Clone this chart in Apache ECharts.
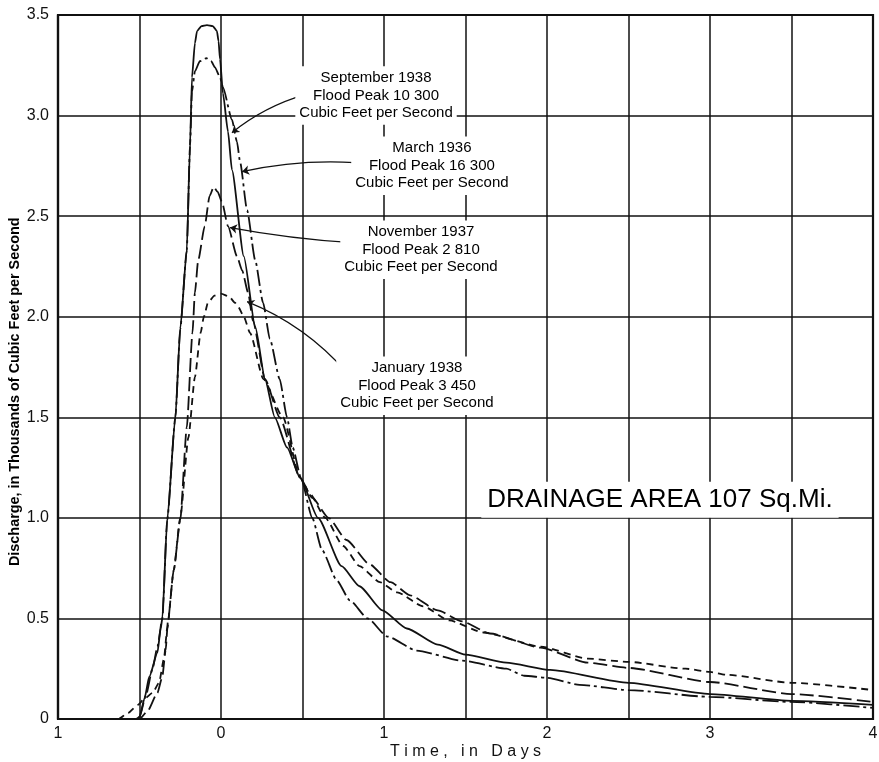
<!DOCTYPE html>
<html>
<head>
<meta charset="utf-8">
<script src="https://cdn.jsdelivr.net/npm/echarts@6/dist/echarts.min.js"></script>
<style>
html,body{margin:0;padding:0;background:#fff;}
#main{width:879px;height:762px;}
</style>
</head>
<body>
<div id="main"></div>
<script>
// ---- Data (time in days relative to peak, discharge in thousands of cfs) ----
const sept1938 = [[-1,0],[-0.52,0],[-0.5,0.01],[-0.47,0.1],[-0.44,0.21],[-0.39,0.33],[-0.37,0.45],[-0.36,0.5],[-0.33,0.99],[-0.28,1.5],[-0.25,1.94],[-0.21,2.33],[-0.19,2.85],[-0.178,3.19],[-0.16,3.36],[-0.147,3.42],[-0.12,3.445],[-0.086,3.45],[-0.05,3.445],[-0.025,3.42],[-0.015,3.37],[-0.006,3.28],[0.012,3.11],[0.043,2.92],[0.067,2.73],[0.14,2.3],[0.21,1.95],[0.27,1.69],[0.33,1.5],[0.405,1.35],[0.485,1.2],[0.595,1.0],[0.74,0.76],[0.85,0.66],[0.99,0.54],[1.14,0.45],[1.33,0.37],[1.5,0.32],[1.75,0.28],[2.02,0.244],[2.5,0.18],[3.0,0.124],[3.5,0.09],[4.0,0.07]];
const march1936 = [[-1,0],[-0.52,0],[-0.5,0.01],[-0.46,0.12],[-0.42,0.25],[-0.39,0.36],[-0.36,0.5],[-0.33,0.99],[-0.28,1.5],[-0.25,1.94],[-0.21,2.33],[-0.19,2.85],[-0.178,3.12],[-0.16,3.22],[-0.13,3.27],[-0.09,3.285],[-0.06,3.27],[-0.037,3.24],[-0.006,3.19],[0.012,3.14],[0.067,2.98],[0.098,2.87],[0.117,2.77],[0.16,2.53],[0.21,2.28],[0.258,2.07],[0.30,1.89],[0.36,1.69],[0.405,1.5],[0.44,1.35],[0.49,1.2],[0.56,1.0],[0.62,0.84],[0.71,0.69],[0.79,0.59],[0.9,0.5],[1.02,0.41],[1.2,0.34],[1.48,0.29],[1.75,0.25],[1.86,0.215],[2.0,0.205],[2.2,0.17],[2.5,0.144],[3.0,0.11],[3.5,0.085],[4.0,0.055]];
const nov1937 = [[-1,0],[-0.5,0],[-0.45,0.04],[-0.39,0.13],[-0.36,0.21],[-0.34,0.34],[-0.325,0.49],[-0.29,0.74],[-0.25,0.99],[-0.21,1.45],[-0.175,1.92],[-0.16,2.12],[-0.14,2.28],[-0.1,2.45],[-0.07,2.6],[-0.045,2.645],[-0.02,2.62],[0.006,2.57],[0.043,2.45],[0.098,2.30],[0.13,2.23],[0.166,2.12],[0.196,1.98],[0.27,1.69],[0.36,1.5],[0.485,1.2],[0.56,1.1],[0.66,1.0],[0.77,0.89],[0.91,0.77],[1.04,0.68],[1.16,0.615],[1.33,0.54],[1.48,0.485],[1.65,0.425],[1.96,0.355],[2.25,0.28],[2.5,0.254],[3.0,0.184],[3.5,0.124],[4.0,0.085]];
const jan1938 = [[-1,0],[-0.63,0],[-0.57,0.03],[-0.51,0.07],[-0.47,0.1],[-0.42,0.13],[-0.38,0.18],[-0.35,0.3],[-0.33,0.45],[-0.29,0.74],[-0.25,1.0],[-0.2,1.4],[-0.16,1.7],[-0.125,1.92],[-0.105,2.0],[-0.08,2.07],[-0.04,2.105],[0.0,2.115],[0.05,2.1],[0.085,2.07],[0.105,2.05],[0.14,2.0],[0.178,1.92],[0.26,1.69],[0.38,1.5],[0.485,1.2],[0.546,1.12],[0.64,1.0],[0.75,0.86],[0.85,0.76],[0.975,0.68],[1.08,0.63],[1.24,0.56],[1.4,0.49],[1.61,0.43],[1.96,0.36],[2.25,0.30],[2.5,0.284],[2.85,0.25],[3.0,0.234],[3.1,0.22],[3.5,0.18],[4.0,0.144]];

const xTickValues = [-1,0,1,2,3,4];
const xTickLabels = ['1','0','1','2','3','4'];
const yTickValues = [0,0.5,1,1.5,2,2.5,3,3.5];
const yTickLabels = ['0','0.5','1.0','1.5','2.0','2.5','3.0','3.5'];

const xName = 'T i m e ,   i n   D a y s';
const yName = 'Discharge, in Thousands of Cubic Feet per Second';

// annotation texts, anchors in data coordinates
const notes = [
  {text:'September 1938\nFlood Peak 10 300\nCubic Feet per Second', at:[0.951,3.10]},
  {text:'March 1936\nFlood Peak 16 300\nCubic Feet per Second', at:[1.294,2.751]},
  {text:'November 1937\nFlood Peak 2 810\nCubic Feet per Second', at:[1.227,2.333]},
  {text:'January 1938\nFlood Peak 3 450\nCubic Feet per Second', at:[1.202,1.657]}
];
const leaders = [
  {from:[0.515,3.104], to:[0.067,2.915], curve:-0.1},
  {from:[0.822,2.766], to:[0.129,2.721], curve:-0.07},
  {from:[0.804,2.368], to:[0.055,2.443], curve:0.03},
  {from:[0.773,1.721], to:[0.160,2.075], curve:-0.12}
];
const areaNote = {text:'DRAINAGE AREA 107 Sq.Mi.', at:[2.693,1.09]};

const INK = '#111';
const FONT = '"Liberation Sans", Arial, sans-serif';

function curve(name, data, type){
  return {
    name, type:'line', data, showSymbol:false, symbol:'none',
    smooth:0.2, smoothMonotone:'x', z:3,
    lineStyle:{color:INK, width:1.8, type:type, cap:'butt'}
  };
}

const chart = echarts.init(document.getElementById('main'), null, {renderer:'canvas'});
const option = {
  backgroundColor:'#fff',
  animation:false,
  grid:{left:58, right:6, top:15, bottom:43, containLabel:false, outerBoundsMode:'none',
    show:true, borderColor:INK, borderWidth:2.2, backgroundColor:'transparent'},
  xAxis:{
    type:'value', min:-1, max:4, interval:0.5,
    axisLine:{show:true, onZero:false, lineStyle:{color:INK, width:2.2}},
    axisTick:{show:false},
    splitLine:{show:true, lineStyle:{color:INK, width:1.5}},
    axisLabel:{color:INK, fontSize:16, fontFamily:FONT, margin:7,
      formatter:function(v){ const i = xTickValues.indexOf(v); return i>=0 ? xTickLabels[i] : ''; }},
    name:xName, nameLocation:'middle', nameGap:25, nameMoveOverlap:false,
    nameTextStyle:{color:INK, fontSize:16, fontFamily:FONT}
  },
  yAxis:{
    type:'value', min:0, max:3.5, interval:0.5,
    axisLine:{show:true, onZero:false, lineStyle:{color:INK, width:2.2}},
    axisTick:{show:false},
    splitLine:{show:true, lineStyle:{color:INK, width:1.5}},
    axisLabel:{color:INK, fontSize:16, fontFamily:FONT, margin:9,
      formatter:function(v){ const i = yTickValues.findIndex(t=>Math.abs(t-v)<1e-9); return i>=0 ? yTickLabels[i] : ''; }}
  },
  series:[
    curve('September 1938', sept1938, 'solid'),
    curve('March 1936', march1936, [16,4,3,4]),
    curve('November 1937', nov1937, [14,5]),
    curve('January 1938', jan1938, [7,5]),
    {
      type:'lines', coordinateSystem:'cartesian2d', z:4,
      symbol:['none','arrow'], symbolSize:7,
      lineStyle:{color:INK, width:1.2, opacity:1},
      data: leaders.map(l=>({coords:[l.from,l.to], lineStyle:{curveness:l.curve}}))
    }
  ]
};
chart.setOption(option);

function px(pt){ return chart.convertToPixel({gridIndex:0}, pt); }
const graphics = notes.map(n=>{
  const p = px(n.at);
  return {type:'text', x:p[0], y:p[1], z:100,
    style:{text:n.text, align:'center', verticalAlign:'middle', fill:'#000',
      font:'15px '+FONT, lineHeight:17.5, backgroundColor:'#fff', padding:[3,4]}};
});
const ap = px(areaNote.at);
graphics.push({type:'text', x:ap[0], y:ap[1], z:100,
  style:{text:areaNote.text, align:'center', verticalAlign:'middle', fill:'#000',
    font:'26px '+FONT, backgroundColor:'#fff', padding:[5,6]}});
const yp = px([-1,1.627]);
graphics.push({type:'text', x:yp[0]-43, y:yp[1], z:100, rotation:Math.PI/2,
  style:{text:yName, align:'center', verticalAlign:'middle', fill:'#000',
    font:'bold 14.4px '+FONT}});
chart.setOption({graphic:graphics});
</script>
</body>
</html>
